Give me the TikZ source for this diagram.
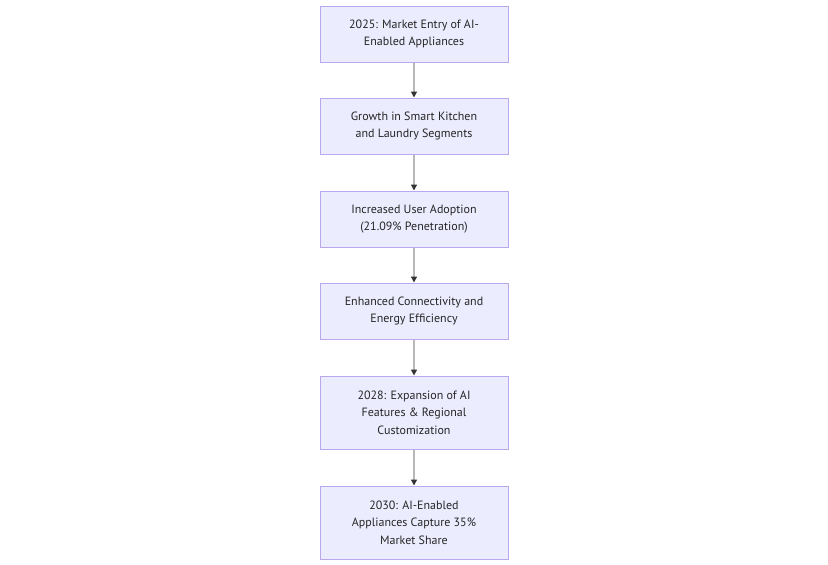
\documentclass[tikz,border=0pt]{standalone}
\usepackage{fontspec}
\setmainfont{PT Sans}
\usepackage{tikz}
\usetikzlibrary{positioning, arrows.meta}
\definecolor{boxfill}{HTML}{ECECFF}
\definecolor{boxline}{HTML}{B9A8EE}
\definecolor{linkline}{HTML}{B8B8B8}
\definecolor{tipcol}{HTML}{333333}

\begin{document}
\begin{tikzpicture}[x=1pt, y=-1pt,
    stage/.style={draw=boxline, fill=boxfill, line width=1pt, minimum width=188pt,
        minimum height=56pt, align=center, inner sep=0pt,
        font=\fontsize{12}{17.5}\selectfont, text=black!85},
    tall/.style={minimum height=73pt},
    link/.style={draw=linkline, line width=1.3pt, -{Triangle[length=6pt, width=6pt, color=tipcol]}}]
    \useasboundingbox (0,0) rectangle (828,565);

    % Stages
    \node[stage] (entry) at (414,34) {2025: Market Entry of AI-\\Enabled Appliances};
    \node[stage] (growth) at (414,126) {Growth in Smart Kitchen\\and Laundry Segments};
    \node[stage] (adopt) at (414,219) {Increased User Adoption\\(21.09\% Penetration)};
    \node[stage] (connect) at (414,311) {Enhanced Connectivity and\\Energy Efficiency};
    \node[stage, tall] (expand) at (414,412.5) {2028: Expansion of AI\\Features \& Regional\\Customization};
    \node[stage, tall] (share) at (414,522.5) {2030: AI-Enabled\\Appliances Capture 35\%\\Market Share};

    % Links
    \draw[link] (entry) -- (growth);
    \draw[link] (growth) -- (adopt);
    \draw[link] (adopt) -- (connect);
    \draw[link] (connect) -- (expand);
    \draw[link] (expand) -- (share);
\end{tikzpicture}
\end{document}
